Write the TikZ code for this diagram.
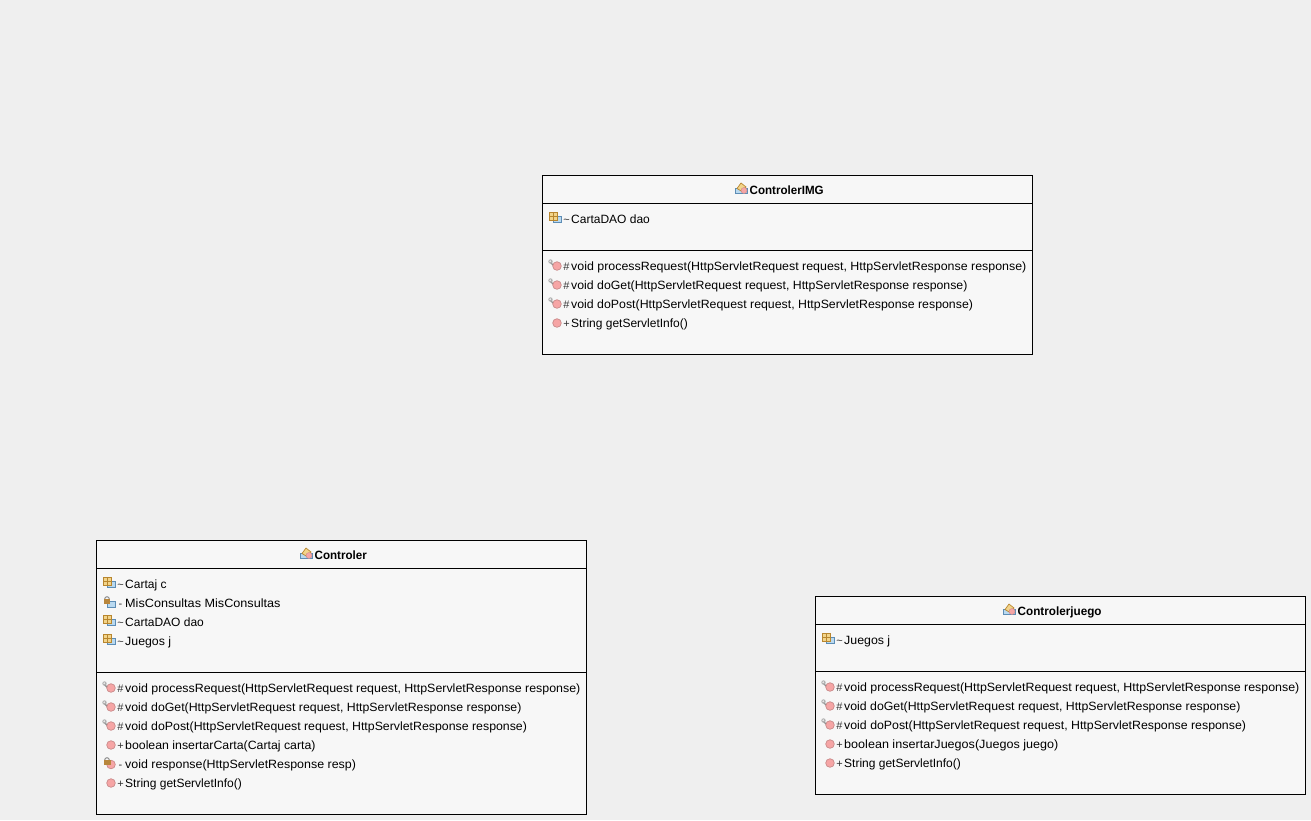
\documentclass[tikz,border=0pt]{standalone}
\usepackage{fontspec}
\usepackage{graphicx}
\setmainfont{Liberation Sans}
\definecolor{bgc}{HTML}{EFEFEF}
\definecolor{boxc}{HTML}{F7F7F7}
\definecolor{redc}{HTML}{F6A5A5}
\definecolor{redd}{HTML}{C98A8A}
\definecolor{yelc}{HTML}{F2D48A}
\definecolor{yeld}{HTML}{B8862E}
\definecolor{bluec}{HTML}{B9D9F0}
\definecolor{blued}{HTML}{5D8DB5}
\definecolor{grayc}{HTML}{8E8E8E}
\definecolor{lockc}{HTML}{B8863C}
\tikzset{
  umlbox/.style={draw=black,fill=boxc,line width=1pt},
  sepline/.style={draw=black,line width=1pt},
  rowtext/.style={anchor=base west,inner sep=0pt,font=\fontsize{12}{14}\selectfont,text=black},
  titletext/.style={anchor=base west,inner sep=0pt,font=\fontsize{12}{14}\selectfont\bfseries,text=black},
  prefixtext/.style={anchor=base,inner sep=0pt,font=\fontsize{11}{14}\selectfont,text=black!80},
  ballicon/.style={fill=redc,draw=redd,line width=.7pt},
  keyicon/.style={draw=grayc,line width=1.4pt},
}
% icons: #1,#2 = left x and centre y of the row
\newcommand{\icball}[2]{\path[ballicon] (#1+4.5,#2+0.5) circle (4.3);}
\newcommand{\icprot}[2]{\draw[keyicon] (#1+1,#2-3) -- (#1+6,#2+2);\fill[grayc!70] (#1+1.5,#2-3.5) circle (2.2);\fill[white] (#1+1.2,#2-3.8) circle (.8);\path[ballicon] (#1+8,#2+1) circle (4.3);}
\newcommand{\icpriv}[2]{\path[ballicon] (#1+8,#2+1.5) circle (4.3);\draw[grayc,line width=1pt] (#1+4,#2-3) circle (2.3);\fill[lockc] (#1+.5,#2-3) rectangle (#1+7.5,#2+2);}
\newcommand{\icbase}[2]{\fill[bluec] (#1+4,#2-1) rectangle (#1+12,#2+5);\draw[blued,line width=.7pt] (#1+4,#2-1) rectangle (#1+12,#2+5);}
\newcommand{\icfield}[2]{\icbase{#1}{#2}\fill[yelc] (#1,#2-5) rectangle (#1+8,#2+3);\draw[yeld,line width=.8pt] (#1,#2-5) rectangle (#1+8,#2+3) (#1+4,#2-5) -- (#1+4,#2+3) (#1,#2-1) -- (#1+8,#2-1);}
\newcommand{\icpfield}[2]{\icbase{#1}{#2}\draw[grayc,line width=1pt] (#1+4,#2-3) circle (2.3);\fill[lockc] (#1+.8,#2-3) rectangle (#1+7.2,#2+2);}
\newcommand{\icclass}[2]{\fill[bluec] (#1,#2) rectangle (#1+12,#2+5.5);\draw[blued,line width=.7pt] (#1,#2) rectangle (#1+12,#2+5.5);\path[fill=yelc,draw=yeld,line width=.7pt] (#1+2,#2+.5) -- (#1+6,#2-5) -- (#1+11,#2-1) -- (#1+7,#2+3.5) -- cycle;\path[ballicon,line width=.4pt] (#1+9,#2+2.5) circle (3);}
% rows: x of prefix column, centre y, prefix, text
\newcommand{\rowt}[4]{\node[prefixtext] at (#1+3.5,#2+4.8) {#3};\node[rowtext] at (#1+8,#2+4.8) {#4};}
% same with the text widened by a factor #5
\newcommand{\rowx}[5]{\node[prefixtext] at (#1+3.5,#2+4.8) {#3};\node[rowtext] at (#1+8,#2+4.8) {\scalebox{#5}[1]{#4}};}
\begin{document}
\begin{tikzpicture}[x=1pt,y=-1pt]
\useasboundingbox (0,0) rectangle (1311,820);
\fill[bgc] (0,0) rectangle (1311,820);

% ControlerIMG
\draw[umlbox] (542.5,175.5) rectangle (1032.5,354.5);
\draw[sepline] (542.5,203.5) -- (1032.5,203.5) (542.5,250.5) -- (1032.5,250.5);
\icclass{735}{188}
\node[titletext] (imgt) at (749.5,194) {\scalebox{.965}[1]{ControlerIMG}};
\icfield{549}{217}
\rowt{563}{218.5}{\textasciitilde}{CartaDAO dao}
\icprot{549}{265}
\rowx{563}{265.5}{\#}{void processRequest(HttpServletRequest request, HttpServletResponse response)}{1.034}
\icprot{549}{284}
\rowx{563}{284.5}{\#}{void doGet(HttpServletRequest request, HttpServletResponse response)}{1.026}
\icprot{549}{303}
\rowx{563}{303.5}{\#}{void doPost(HttpServletRequest request, HttpServletResponse response)}{1.028}
\icball{552.5}{322.5}
\rowt{563}{322.5}{+}{String getServletInfo()}

% Controler
\draw[umlbox] (96.5,540.5) rectangle (586.5,814.5);
\draw[sepline] (96.5,568.5) -- (586.5,568.5) (96.5,672.5) -- (586.5,672.5);
\icclass{300}{553}
\node[titletext] (ct) at (314.5,559) {\scalebox{.965}[1]{Controler}};
\icfield{103}{582}
\rowt{117}{583.5}{\textasciitilde}{Cartaj c}
\icpfield{103}{602}
\rowx{117}{602.5}{-}{MisConsultas MisConsultas}{1.054}
\icfield{103}{620}
\rowt{117}{621.5}{\textasciitilde}{CartaDAO dao}
\icfield{103}{639}
\rowx{117}{640.5}{\textasciitilde}{Juegos j}{1.03}
\icprot{103}{687}
\rowx{117}{687.5}{\#}{void processRequest(HttpServletRequest request, HttpServletResponse response)}{1.034}
\icprot{103}{706}
\rowx{117}{706.5}{\#}{void doGet(HttpServletRequest request, HttpServletResponse response)}{1.026}
\icprot{103}{725}
\rowx{117}{725.5}{\#}{void doPost(HttpServletRequest request, HttpServletResponse response)}{1.028}
\icball{106.5}{744.5}
\rowx{117}{744.5}{+}{boolean insertarCarta(Cartaj carta)}{1.027}
\icpriv{103}{763}
\rowx{117}{763.5}{-}{void response(HttpServletResponse resp)}{1.036}
\icball{106.5}{782.5}
\rowt{117}{782.5}{+}{String getServletInfo()}

% Controlerjuego
\draw[umlbox] (815.5,596.5) rectangle (1305.5,794.5);
\draw[sepline] (815.5,624.5) -- (1305.5,624.5) (815.5,671.5) -- (1305.5,671.5);
\icclass{1003}{609}
\node[titletext] (jt) at (1017.5,615) {\scalebox{.975}[1]{Controlerjuego}};
\icfield{822}{638}
\rowx{836}{639.5}{\textasciitilde}{Juegos j}{1.03}
\icprot{822}{686}
\rowx{836}{686.5}{\#}{void processRequest(HttpServletRequest request, HttpServletResponse response)}{1.034}
\icprot{822}{705}
\rowx{836}{705.5}{\#}{void doGet(HttpServletRequest request, HttpServletResponse response)}{1.026}
\icprot{822}{724}
\rowx{836}{724.5}{\#}{void doPost(HttpServletRequest request, HttpServletResponse response)}{1.028}
\icball{825.5}{743.5}
\rowx{836}{743.5}{+}{boolean insertarJuegos(Juegos juego)}{1.049}
\icball{825.5}{762.5}
\rowt{836}{762.5}{+}{String getServletInfo()}
\end{tikzpicture}
\end{document}
